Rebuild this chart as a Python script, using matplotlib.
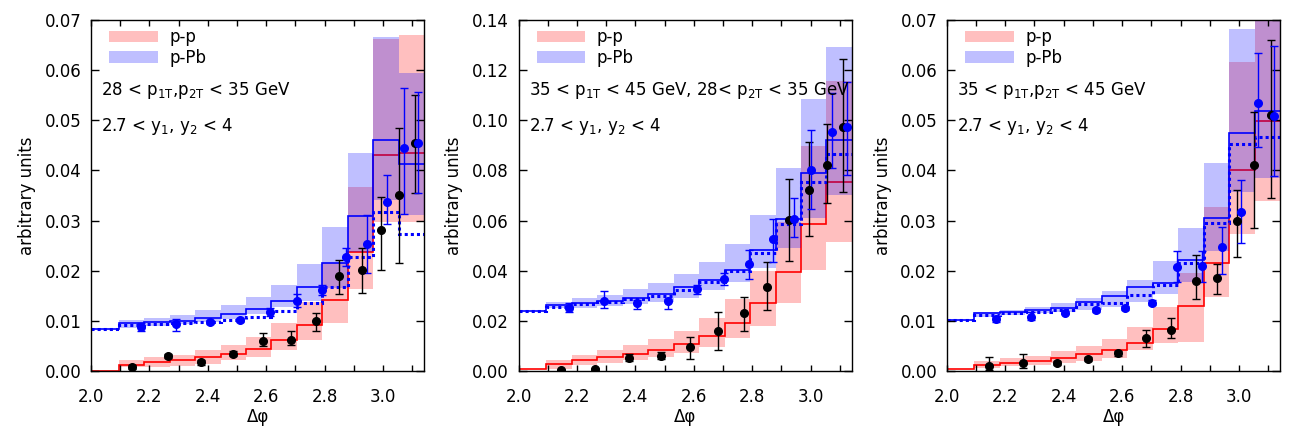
import numpy as np
import matplotlib
matplotlib.use("Agg")
import matplotlib.pyplot as plt
from matplotlib.patches import Patch
from matplotlib.ticker import MultipleLocator, FormatStrFormatter

plt.rcParams['font.family'] = ['DejaVu Sans']
plt.rcParams['font.size'] = 12

# ---------------- data ----------------
# bin edges in delta-phi (bins of pi/36, first bin clipped at 2.0)
dphi_edges = [2.0] + [k * np.pi / 36 for k in range(24, 37)]

nan = np.nan

# ---- panel 1: 28 < p1T,p2T < 35 GeV ----
p1_pp_line = [0.0, 0.0012, 0.0017, 0.0021, 0.0027, 0.0033, 0.0043, 0.0062, 0.0092, 0.0142, 0.0238, 0.0430, 0.0434]
p1_pp_lo = [nan, 0.0007, 0.0008, 0.0010, 0.0014, 0.0021, 0.0028, 0.0042, 0.0062, 0.0096, 0.0163, 0.0298, 0.0298]
p1_pp_hi = [nan, 0.0022, 0.0027, 0.0031, 0.0042, 0.0052, 0.0068, 0.0096, 0.0138, 0.0216, 0.0367, 0.0663, 0.0670]
p1_pa_lo = [nan, 0.0086, 0.0090, 0.0094, 0.0098, 0.0104, 0.0113, 0.0128, 0.0140, 0.0165, 0.0238, 0.0342, 0.0311]
p1_pa_hi = [nan, 0.0101, 0.0105, 0.0112, 0.0122, 0.0132, 0.0148, 0.0171, 0.0214, 0.0288, 0.0434, 0.0666, 0.0594]
p1_pa_line = [0.0083, 0.0095, 0.0097, 0.0100, 0.0106, 0.0114, 0.0123, 0.0139, 0.0167, 0.0216, 0.0309, 0.0461, 0.0413]
p1_pa_dot = [0.0083, 0.0092, 0.0093, 0.0096, 0.0098, 0.0101, 0.0108, 0.0119, 0.0135, 0.0167, 0.0227, 0.0318, 0.0273]
p1_pp_x = [2.141, 2.264, 2.378, 2.486, 2.589, 2.686, 2.771, 2.850, 2.928, 2.994, 3.055, 3.110]
p1_pp_y = [0.0007, 0.0029, 0.0017, 0.0034, 0.0060, 0.0062, 0.0100, 0.0189, 0.0201, 0.0281, 0.0351, 0.0454]
p1_pp_ylo = [0.0003, 0.0025, 0.0012, 0.0029, 0.0049, 0.0052, 0.0080, 0.0153, 0.0155, 0.0201, 0.0215, 0.0354]
p1_pp_yhi = [0.0011, 0.0033, 0.0021, 0.0039, 0.0075, 0.0079, 0.0115, 0.0222, 0.0245, 0.0347, 0.0484, 0.0550]
p1_pa_x = [2.172, 2.292, 2.406, 2.511, 2.612, 2.705, 2.792, 2.872, 2.946, 3.013, 3.070, 3.121]
p1_pa_y = [0.0088, 0.0093, 0.0097, 0.0101, 0.0118, 0.0139, 0.0162, 0.0227, 0.0253, 0.0338, 0.0444, 0.0454]
p1_pa_ylo = [0.0080, 0.0079, 0.0093, 0.0097, 0.0110, 0.0127, 0.0152, 0.0210, 0.0195, 0.0293, 0.0313, 0.0354]
p1_pa_yhi = [0.0095, 0.0103, 0.0102, 0.0105, 0.0125, 0.0153, 0.0171, 0.0245, 0.0312, 0.0391, 0.0564, 0.0556]

# ---- panel 2: 35 < p1T < 45 GeV, 28 < p2T < 35 GeV ----
p2_pp_line = [0.0006, 0.0026, 0.0043, 0.0054, 0.0066, 0.0082, 0.0106, 0.0139, 0.0190, 0.0270, 0.0394, 0.0587, 0.0753]
p2_pp_lo = [nan, 0.0009, 0.0023, 0.0032, 0.0043, 0.0054, 0.0070, 0.0094, 0.0130, 0.0180, 0.0270, 0.0403, 0.0516]
p2_pp_hi = [nan, 0.0045, 0.0065, 0.0085, 0.0102, 0.0128, 0.0161, 0.0210, 0.0287, 0.0400, 0.0596, 0.0898, 0.1158]
p2_pa_lo = [nan, 0.0250, 0.0253, 0.0260, 0.0269, 0.0276, 0.0293, 0.0322, 0.0356, 0.0410, 0.0490, 0.0612, 0.0702]
p2_pa_hi = [nan, 0.0274, 0.0292, 0.0305, 0.0326, 0.0352, 0.0388, 0.0436, 0.0507, 0.0622, 0.0809, 0.1085, 0.1294]
p2_pa_line = [0.0239, 0.0263, 0.0272, 0.0279, 0.0292, 0.0307, 0.0334, 0.0363, 0.0403, 0.0483, 0.0605, 0.0789, 0.0922]
p2_pa_dot = [0.0239, 0.0257, 0.0266, 0.0274, 0.0286, 0.0300, 0.0322, 0.0354, 0.0399, 0.0470, 0.0585, 0.0753, 0.0865]
p2_pp_x = [2.144, 2.262, 2.379, 2.488, 2.587, 2.684, 2.772, 2.852, 2.927, 2.996, 3.057, 3.112]
p2_pp_y = [0.0003, 0.0008, 0.0053, 0.0060, 0.0095, 0.0160, 0.0233, 0.0334, 0.0603, 0.0722, 0.0822, 0.0972]
p2_pp_ylo = [0.0000, 0.0003, 0.0040, 0.0047, 0.0047, 0.0085, 0.0160, 0.0243, 0.0439, 0.0539, 0.0669, 0.0715]
p2_pp_yhi = [0.0007, 0.0013, 0.0067, 0.0075, 0.0137, 0.0234, 0.0297, 0.0434, 0.0765, 0.0915, 0.0984, 0.1244]
p2_pa_x = [2.174, 2.294, 2.407, 2.513, 2.610, 2.703, 2.790, 2.872, 2.944, 3.000, 3.072, 3.124]
p2_pa_y = [0.0253, 0.0279, 0.0270, 0.0279, 0.0326, 0.0366, 0.0426, 0.0527, 0.0605, 0.0802, 0.0952, 0.0972]
p2_pa_ylo = [0.0235, 0.0250, 0.0247, 0.0247, 0.0308, 0.0343, 0.0366, 0.0434, 0.0533, 0.0645, 0.0809, 0.0782]
p2_pa_yhi = [0.0270, 0.0319, 0.0283, 0.0289, 0.0344, 0.0390, 0.0483, 0.0605, 0.0689, 0.0962, 0.1108, 0.1154]

# ---- panel 3: 35 < p1T,p2T < 45 GeV ----
p3_pp_line = [0.0003, 0.0011, 0.0015, 0.0020, 0.0025, 0.0033, 0.0042, 0.0056, 0.0083, 0.0130, 0.0215, 0.0400, 0.0499]
p3_pp_lo = [nan, 0.0005, 0.0009, 0.0012, 0.0015, 0.0019, 0.0025, 0.0042, 0.0055, 0.0058, 0.0147, 0.0273, 0.0339]
p3_pp_hi = [nan, 0.0020, 0.0025, 0.0030, 0.0040, 0.0050, 0.0063, 0.0087, 0.0127, 0.0196, 0.0328, 0.0616, 0.0750]
p3_pa_lo = [nan, 0.0108, 0.0112, 0.0115, 0.0117, 0.0122, 0.0127, 0.0137, 0.0154, 0.0178, 0.0240, 0.0356, 0.0384]
p3_pa_hi = [nan, 0.0118, 0.0122, 0.0127, 0.0135, 0.0146, 0.0160, 0.0182, 0.0219, 0.0285, 0.0415, 0.0683, 0.0750]
p3_pa_line = [0.0102, 0.0115, 0.0118, 0.0122, 0.0125, 0.0137, 0.0150, 0.0167, 0.0175, 0.0221, 0.0305, 0.0475, 0.0519]
p3_pa_dot = [0.0102, 0.0112, 0.0115, 0.0118, 0.0122, 0.0133, 0.0136, 0.0152, 0.0172, 0.0216, 0.0296, 0.0453, 0.0466]
p3_pp_x = [2.143, 2.261, 2.377, 2.483, 2.586, 2.683, 2.768, 2.852, 2.926, 2.995, 3.053, 3.109]
p3_pp_y = [0.0010, 0.0015, 0.0015, 0.0023, 0.0035, 0.0065, 0.0082, 0.0179, 0.0185, 0.0299, 0.0411, 0.0511]
p3_pp_ylo = [0.0002, 0.0005, 0.0011, 0.0019, 0.0030, 0.0047, 0.0065, 0.0143, 0.0154, 0.0227, 0.0285, 0.0346]
p3_pp_yhi = [0.0027, 0.0034, 0.0019, 0.0027, 0.0040, 0.0082, 0.0105, 0.0231, 0.0213, 0.0360, 0.0516, 0.0660]
p3_pa_x = [2.169, 2.289, 2.406, 2.511, 2.611, 2.702, 2.789, 2.873, 2.943, 3.007, 3.066, 3.120]
p3_pa_y = [0.0104, 0.0108, 0.0116, 0.0122, 0.0125, 0.0136, 0.0207, 0.0209, 0.0247, 0.0318, 0.0534, 0.0509]
p3_pa_ylo = [0.0097, 0.0101, 0.0113, 0.0117, 0.0121, 0.0131, 0.0177, 0.0177, 0.0193, 0.0255, 0.0447, 0.0388]
p3_pa_yhi = [0.0108, 0.0118, 0.0120, 0.0125, 0.0130, 0.0142, 0.0239, 0.0240, 0.0288, 0.0380, 0.0634, 0.0648]

panel_ylim = [0.07, 0.14, 0.07]
panel_ystep = [0.01, 0.02, 0.01]
panel_text1 = [r"28 < p$_{\mathregular{1T}}$,p$_{\mathregular{2T}}$ < 35 GeV",
               r"35 < p$_{\mathregular{1T}}$ < 45 GeV, 28< p$_{\mathregular{2T}}$ < 35 GeV",
               r"35 < p$_{\mathregular{1T}}$,p$_{\mathregular{2T}}$ < 45 GeV"]
panel_text2 = r"2.7 < y$_{\mathregular{1}}$, y$_{\mathregular{2}}$ < 4"
legend_labels = ["p-p", "p-Pb"]

panels = [
    (p1_pp_line, p1_pp_lo, p1_pp_hi, p1_pa_lo, p1_pa_hi, p1_pa_line, p1_pa_dot,
     p1_pp_x, p1_pp_y, p1_pp_ylo, p1_pp_yhi, p1_pa_x, p1_pa_y, p1_pa_ylo, p1_pa_yhi),
    (p2_pp_line, p2_pp_lo, p2_pp_hi, p2_pa_lo, p2_pa_hi, p2_pa_line, p2_pa_dot,
     p2_pp_x, p2_pp_y, p2_pp_ylo, p2_pp_yhi, p2_pa_x, p2_pa_y, p2_pa_ylo, p2_pa_yhi),
    (p3_pp_line, p3_pp_lo, p3_pp_hi, p3_pa_lo, p3_pa_hi, p3_pa_line, p3_pa_dot,
     p3_pp_x, p3_pp_y, p3_pp_ylo, p3_pp_yhi, p3_pa_x, p3_pa_y, p3_pa_ylo, p3_pa_yhi),
]

# ---------------- plotting ----------------
RED_BAND = (1.0, 0.0, 0.0, 0.25)
BLUE_BAND = (0.0, 0.0, 1.0, 0.25)

fig = plt.figure(figsize=(12.96, 4.32), dpi=100)
lefts = [0.0702, 0.4001, 0.7306]
edges = np.asarray(dphi_edges)
widths = np.diff(edges)

def band(ax, lo, hi, color):
    lo = np.asarray(lo, float)
    hi = np.asarray(hi, float)
    m = ~np.isnan(lo)
    ax.bar(edges[:-1][m], (hi - lo)[m], bottom=lo[m], width=widths[m],
           align='edge', color=color, linewidth=0)

for i, p in enumerate(panels):
    (pp_line, pp_lo, pp_hi, pa_lo, pa_hi, pa_line, pa_dot,
     ppx, ppy, ppylo, ppyhi, pax, pay, paylo, payhi) = p
    ax = fig.add_axes([lefts[i], 0.1412, 0.2573, 0.8125])

    band(ax, pp_lo, pp_hi, RED_BAND)
    ax.stairs(pp_line, edges, baseline=None, color='#ff0000', lw=1.2)
    band(ax, pa_lo, pa_hi, BLUE_BAND)
    ax.stairs(pa_line, edges, baseline=None, color='#0000ff', lw=1.2)
    ax.stairs(pa_dot, edges, baseline=None, color='#0000ff', lw=2.2,
              linestyle=(0, (1, 1)))

    ppy_a = np.asarray(ppy)
    ax.errorbar(ppx, ppy, yerr=[ppy_a - np.asarray(ppylo), np.asarray(ppyhi) - ppy_a],
                fmt='o', color='black', ms=5.5, capsize=3, elinewidth=1, capthick=1)
    pay_a = np.asarray(pay)
    ax.errorbar(pax, pay, yerr=[pay_a - np.asarray(paylo), np.asarray(payhi) - pay_a],
                fmt='o', color='#0000ff', ms=5.5, capsize=3, elinewidth=1, capthick=1)

    ax.set_xlim(2.0, np.pi)
    ax.set_ylim(0, panel_ylim[i])
    ax.xaxis.set_major_locator(MultipleLocator(0.2))
    ax.xaxis.set_minor_locator(MultipleLocator(0.1))
    ax.yaxis.set_major_locator(MultipleLocator(panel_ystep[i]))
    ax.yaxis.set_major_formatter(FormatStrFormatter('%.2f'))
    ax.xaxis.set_major_formatter(FormatStrFormatter('%.1f'))
    ax.tick_params(which='both', direction='in', top=True, right=True, labelsize=12)
    ax.tick_params(axis='x', which='both', length=4, width=1)
    ax.tick_params(axis='y', which='major', length=6, width=1, pad=7)
    ax.tick_params(axis='x', which='major', pad=12)
    for s in ax.spines.values():
        s.set_linewidth(1.0)

    ax.set_xlabel("Δφ", fontsize=12, labelpad=2)
    ax.set_ylabel("arbitrary units", fontsize=12, labelpad=6)

    ax.text(0.03, 0.798, panel_text1[i], transform=ax.transAxes, fontsize=12,
            va='center', ha='left')
    ax.text(0.03, 0.698, panel_text2, transform=ax.transAxes, fontsize=12,
            va='center', ha='left')

    handles = [Patch(facecolor=RED_BAND, edgecolor='none'),
               Patch(facecolor=BLUE_BAND, edgecolor='none')]
    ax.legend(handles, legend_labels, loc='upper left', bbox_to_anchor=(0.03, 1.0),
              frameon=False, fontsize=12, handlelength=2.9, handleheight=0.7,
              handletextpad=0.7, labelspacing=0.15, borderaxespad=0.1)

fig.savefig("out.png", dpi=100)
